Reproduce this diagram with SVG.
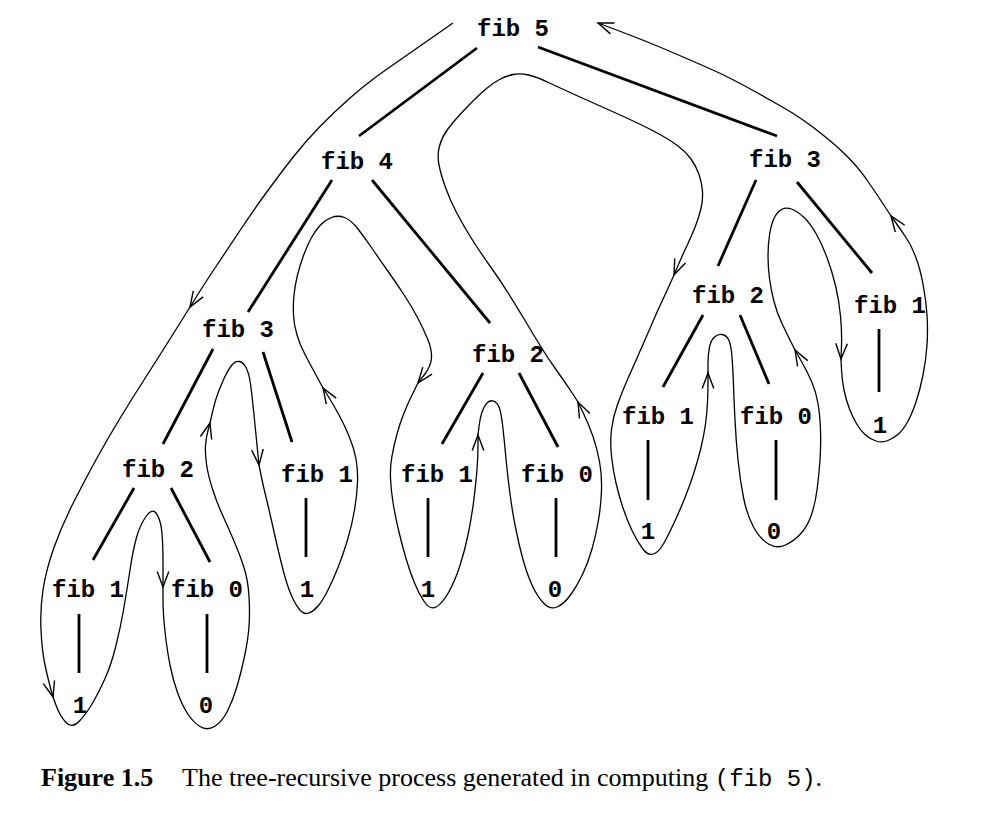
<svg xmlns="http://www.w3.org/2000/svg" width="998" height="827" viewBox="0 0 998 827">
<style>
.lbl{font-family:"Liberation Mono","Courier New",monospace;font-weight:bold;font-size:24px;fill:#000;text-anchor:middle}
.edge{stroke:#000;stroke-width:2.8;stroke-linecap:butt;fill:none}
.trav{stroke:#000;stroke-width:1.3;fill:none;marker-end:url(#arr)}
.cap{font-family:"Liberation Serif","Times New Roman",serif;font-size:26px;fill:#000}
</style>
<defs>
<marker id="arr" markerUnits="userSpaceOnUse" markerWidth="40" markerHeight="40" viewBox="-20 -20 40 40" refX="0" refY="0" orient="auto" overflow="visible"><path d="M-15.5,-5.8 L0,0 L-15.5,5.8" fill="none" stroke="#000" stroke-width="1.4"/></marker>
</defs>
<rect width="998" height="827" fill="#fff"/>
<g id="connectors">
<g id="tree-edges">
<line class="edge" x1="477" y1="48" x2="359" y2="136"/>
<line class="edge" x1="538" y1="47" x2="777" y2="136"/>
<line class="edge" x1="332" y1="180" x2="248" y2="312"/>
<line class="edge" x1="372" y1="180" x2="490" y2="323"/>
<line class="edge" x1="756" y1="180" x2="718" y2="266"/>
<line class="edge" x1="797" y1="182" x2="872" y2="273"/>
<line class="edge" x1="879" y1="329" x2="879" y2="392"/>
<line class="edge" x1="213" y1="349" x2="163" y2="444"/>
<line class="edge" x1="263" y1="352" x2="292" y2="442"/>
<line class="edge" x1="306" y1="498" x2="306" y2="557"/>
<line class="edge" x1="134" y1="488" x2="93" y2="560"/>
<line class="edge" x1="171" y1="488" x2="210" y2="562"/>
<line class="edge" x1="79" y1="614" x2="79" y2="673"/>
<line class="edge" x1="207" y1="614" x2="207" y2="673"/>
<line class="edge" x1="483" y1="373" x2="442" y2="444"/>
<line class="edge" x1="519" y1="373" x2="558" y2="447"/>
<line class="edge" x1="428" y1="498" x2="428" y2="557"/>
<line class="edge" x1="556" y1="498" x2="556" y2="557"/>
<line class="edge" x1="703" y1="315" x2="663" y2="387"/>
<line class="edge" x1="740" y1="315" x2="769" y2="384"/>
<line class="edge" x1="648" y1="440" x2="648" y2="500"/>
<line class="edge" x1="776" y1="440" x2="776" y2="500"/>
</g>
<g id="process">
<path class="trav" d="M453,23 L431.5,38 Q410,53 388.5,68 Q367,83 350,98 Q333,113 319,127.5 Q305,142 294,156 Q283,170 269,189 Q255,208 240,230.5 Q225,253 215,268 Q205,283 197.5,295 L190,307"/>
<path class="trav" d="M190,307 L175,331 Q160,355 146.5,376 Q133,397 120.5,417.5 Q108,438 97,458 Q86,478 74,501.5 Q62,525 54,547.5 Q46,570 43,590 Q40,610 41,630 Q42,650 44.5,662.5 Q47,675 50,686 L53,697"/>
<path class="trav" d="M53,697 L56.5,706.5 Q60,716 66,722.5 Q72,729 79.5,721 Q87,713 93.5,701.5 Q100,690 105.5,677.5 Q111,665 115.5,647.5 Q120,630 123.5,610 Q127,590 130,570 Q133,550 136.5,537.5 Q140,525 146,516.5 Q152,508 156,513 Q160,518 161.5,529 Q163,540 163,563.5 L163,587"/>
<path class="trav" d="M163,587 L163,600 Q163,613 165,631.5 Q167,650 170,665 Q173,680 177.5,692.5 Q182,705 187.5,713.5 Q193,722 200,726.5 Q207,731 214.5,726.5 Q222,722 227.5,711 Q233,700 237,686.5 Q241,673 244.5,656.5 Q248,640 249,626.5 Q250,613 249,596.5 Q248,580 244,567.5 Q240,555 234,541 Q228,527 222.5,515 Q217,503 212.5,489 Q208,475 206.5,464 Q205,453 205.5,445.5 Q206,438 208,430.5 L210,423"/>
<path class="trav" d="M210,423 L212.5,412 Q215,401 218,393 Q221,385 224.5,377.5 Q228,370 231.5,365.5 Q235,361 239,361.5 Q243,362 246,367.5 Q249,373 250.5,384 Q252,395 253.5,410 Q255,425 257,445 L259,465"/>
<path class="trav" d="M259,465 L261,475 Q263,485 265.5,495 Q268,505 271,518.5 Q274,532 277,545 Q280,558 283.5,571.5 Q287,585 291,594.5 Q295,604 299.5,609.5 Q304,615 309,613 Q314,611 318.5,605.5 Q323,600 328,590 Q333,580 338,567.5 Q343,555 347.5,540 Q352,525 354.5,510 Q357,495 357.5,482.5 Q358,470 356,459 Q354,448 349,436 Q344,424 338.5,414 Q333,404 328,396 L323,388"/>
<path class="trav" d="M323,388 L316.5,376 Q310,364 305,354.5 Q300,345 297,335 Q294,325 293.5,315 Q293,305 294,295 Q295,285 297.5,275 Q300,265 303.5,255.5 Q307,246 311,238.5 Q315,231 320,225.5 Q325,220 331.5,217.5 Q338,215 344.5,217.5 Q351,220 358,229 Q365,238 372.5,249 Q380,260 388.5,272 Q397,284 404.5,295.5 Q412,307 418,318.5 Q424,330 428,340 Q432,350 431.5,358 Q431,366 424.5,374.5 L418,383"/>
<path class="trav" d="M418,383 L413,393 Q408,403 404,413 Q400,423 397,434 Q394,445 392,456 Q390,467 390.5,478.5 Q391,490 393,502.5 Q395,515 398.5,530 Q402,545 406,558.5 Q410,572 414.5,583 Q419,594 424.5,602 Q430,610 436,607 Q442,604 448.5,592.5 Q455,581 460,565.5 Q465,550 468.5,532.5 Q472,515 474,498.5 Q476,482 477,469.5 Q478,457 478,446 L478,435"/>
<path class="trav" d="M478,435 L479,426.5 Q480,418 482,412 Q484,406 487,403 Q490,400 493.5,401 Q497,402 499,407 Q501,412 502.5,424.5 Q504,437 505.5,453.5 Q507,470 509.5,490 Q512,510 515.5,527.5 Q519,545 523,559.5 Q527,574 532,585 Q537,596 543.5,603 Q550,610 557,607 Q564,604 570.5,595 Q577,586 582.5,574.5 Q588,563 592,549 Q596,535 598.5,520 Q601,505 601.5,490 Q602,475 599.5,461.5 Q597,448 593,436.5 Q589,425 583.5,413.5 L578,402"/>
<path class="trav" d="M578,402 L571.5,392 Q565,382 557,371 Q549,360 541,347 Q533,334 525,320.5 Q517,307 508.5,293.5 Q500,280 490,266 Q480,252 471.5,238.5 Q463,225 456.5,212.5 Q450,200 445.5,187.5 Q441,175 439,165 Q437,155 439.5,146 Q442,137 447.5,129.5 Q453,122 460,114.5 Q467,107 473.5,100.5 Q480,94 486.5,88.5 Q493,83 499.5,79.5 Q506,76 513,74.5 Q520,73 528.5,75 Q537,77 548.5,82.5 Q560,88 580,97 Q600,106 613.5,112 Q627,118 638.5,123.5 Q650,129 660,134.5 Q670,140 678,146 Q686,152 691,159 Q696,166 699,174.5 Q702,183 702.5,191.5 Q703,200 701,208.5 Q699,217 695.5,226 Q692,235 687.5,244.5 Q683,254 678.5,264.5 L674,275"/>
<path class="trav" d="M674,275 L669.5,285 Q665,295 661,303.5 Q657,312 651,326 Q645,340 639,353.5 Q633,367 627.5,379.5 Q622,392 617.5,404.5 Q613,417 611.5,429.5 Q610,442 611.5,456 Q613,470 616,483 Q619,496 623,508 Q627,520 632,530.5 Q637,541 642.5,548.5 Q648,556 653.5,554 Q659,552 664,543 Q669,534 674.5,522 Q680,510 685,497.5 Q690,485 694,472.5 Q698,460 701,447.5 Q704,435 705.5,424 Q707,413 707.5,402.5 Q708,392 708,382.5 L708,373"/>
<path class="trav" d="M708,373 L708,363.5 Q708,354 709.5,347 Q711,340 714.5,337 Q718,334 722,334.5 Q726,335 728.5,339.5 Q731,344 732,357 Q733,370 733.5,385 Q734,400 735,420 Q736,440 738,460 Q740,480 743.5,497.5 Q747,515 753.5,527 Q760,539 768.5,544 Q777,549 785.5,545 Q794,541 800.5,534 Q807,527 811,516 Q815,505 817,490 Q819,475 820,460 Q821,445 820.5,430 Q820,415 818,403.5 Q816,392 812,382.5 Q808,373 801.5,361.5 L795,350"/>
<path class="trav" d="M795,350 L790.5,341 Q786,332 781.5,322.5 Q777,313 774,301.5 Q771,290 769.5,278.5 Q768,267 768,256 Q768,245 769.5,235 Q771,225 774,218.5 Q777,212 781.5,209.5 Q786,207 791.5,209 Q797,211 803.5,217 Q810,223 816,233.5 Q822,244 827,257.5 Q832,271 835.5,285.5 Q839,300 840.5,316 Q842,332 841.5,345.5 L841,359"/>
<path class="trav" d="M841,359 L841.5,369.5 Q842,380 844,390 Q846,400 849.5,409 Q853,418 857,424.5 Q861,431 865.5,435 Q870,439 876,441 Q882,443 888,440.5 Q894,438 898.5,434 Q903,430 907.5,422 Q912,414 916,402 Q920,390 923,375 Q926,360 927,345 Q928,330 927,315 Q926,300 923,284 Q920,268 915.5,256.5 Q911,245 906,237.5 Q901,230 896,223 L891,216"/>
<path class="trav" d="M891,216 L883.5,204.5 Q876,193 868,181.5 Q860,170 853.5,163 Q847,156 840,149.5 Q833,143 823,135 Q813,127 803,120 Q793,113 781.5,106.5 Q770,100 758.5,93.5 Q747,87 733.5,80 Q720,73 705,66.5 Q690,60 675,53.5 Q660,47 645,41 Q630,35 614,29 L598,23"/>
</g>
</g>
<g id="nodes">
<g id="n-fib5"><text class="lbl" x="513" y="36">fib 5</text></g>
<g id="n-fib4"><text class="lbl" x="357" y="169">fib 4</text></g>
<g id="n-fib3-r"><text class="lbl" x="785" y="167">fib 3</text></g>
<g id="n-fib3-l"><text class="lbl" x="238" y="337">fib 3</text></g>
<g id="n-fib2-m"><text class="lbl" x="508" y="362">fib 2</text></g>
<g id="n-fib2-r"><text class="lbl" x="728" y="303">fib 2</text></g>
<g id="n-fib1-r"><text class="lbl" x="890" y="313">fib 1</text></g>
<g id="n-1-r"><text class="lbl" x="880" y="433">1</text></g>
<g id="n-fib2-l"><text class="lbl" x="158" y="477">fib 2</text></g>
<g id="n-fib1-l3"><text class="lbl" x="317" y="482">fib 1</text></g>
<g id="n-1-l3"><text class="lbl" x="307" y="597">1</text></g>
<g id="n-fib1-m"><text class="lbl" x="437" y="482">fib 1</text></g>
<g id="n-fib0-m"><text class="lbl" x="557" y="482">fib 0</text></g>
<g id="n-1-m"><text class="lbl" x="428" y="597">1</text></g>
<g id="n-0-m"><text class="lbl" x="555" y="597">0</text></g>
<g id="n-fib1-r2"><text class="lbl" x="658" y="424">fib 1</text></g>
<g id="n-fib0-r2"><text class="lbl" x="776" y="424">fib 0</text></g>
<g id="n-1-r2"><text class="lbl" x="648" y="539">1</text></g>
<g id="n-0-r2"><text class="lbl" x="774" y="539">0</text></g>
<g id="n-fib1-ll"><text class="lbl" x="88" y="597">fib 1</text></g>
<g id="n-fib0-ll"><text class="lbl" x="207" y="597">fib 0</text></g>
<g id="n-1-ll"><text class="lbl" x="80" y="713">1</text></g>
<g id="n-0-ll"><text class="lbl" x="206" y="713">0</text></g>
</g>
<g id="caption">
<text class="cap" y="786"><tspan x="41" font-weight="bold">Figure 1.5</tspan><tspan x="182">The tree-recursive process generated in computing </tspan><tspan font-family="Liberation Mono, Courier New, monospace" font-size="24">(fib 5)</tspan><tspan>.</tspan></text>
</g>
</svg>
